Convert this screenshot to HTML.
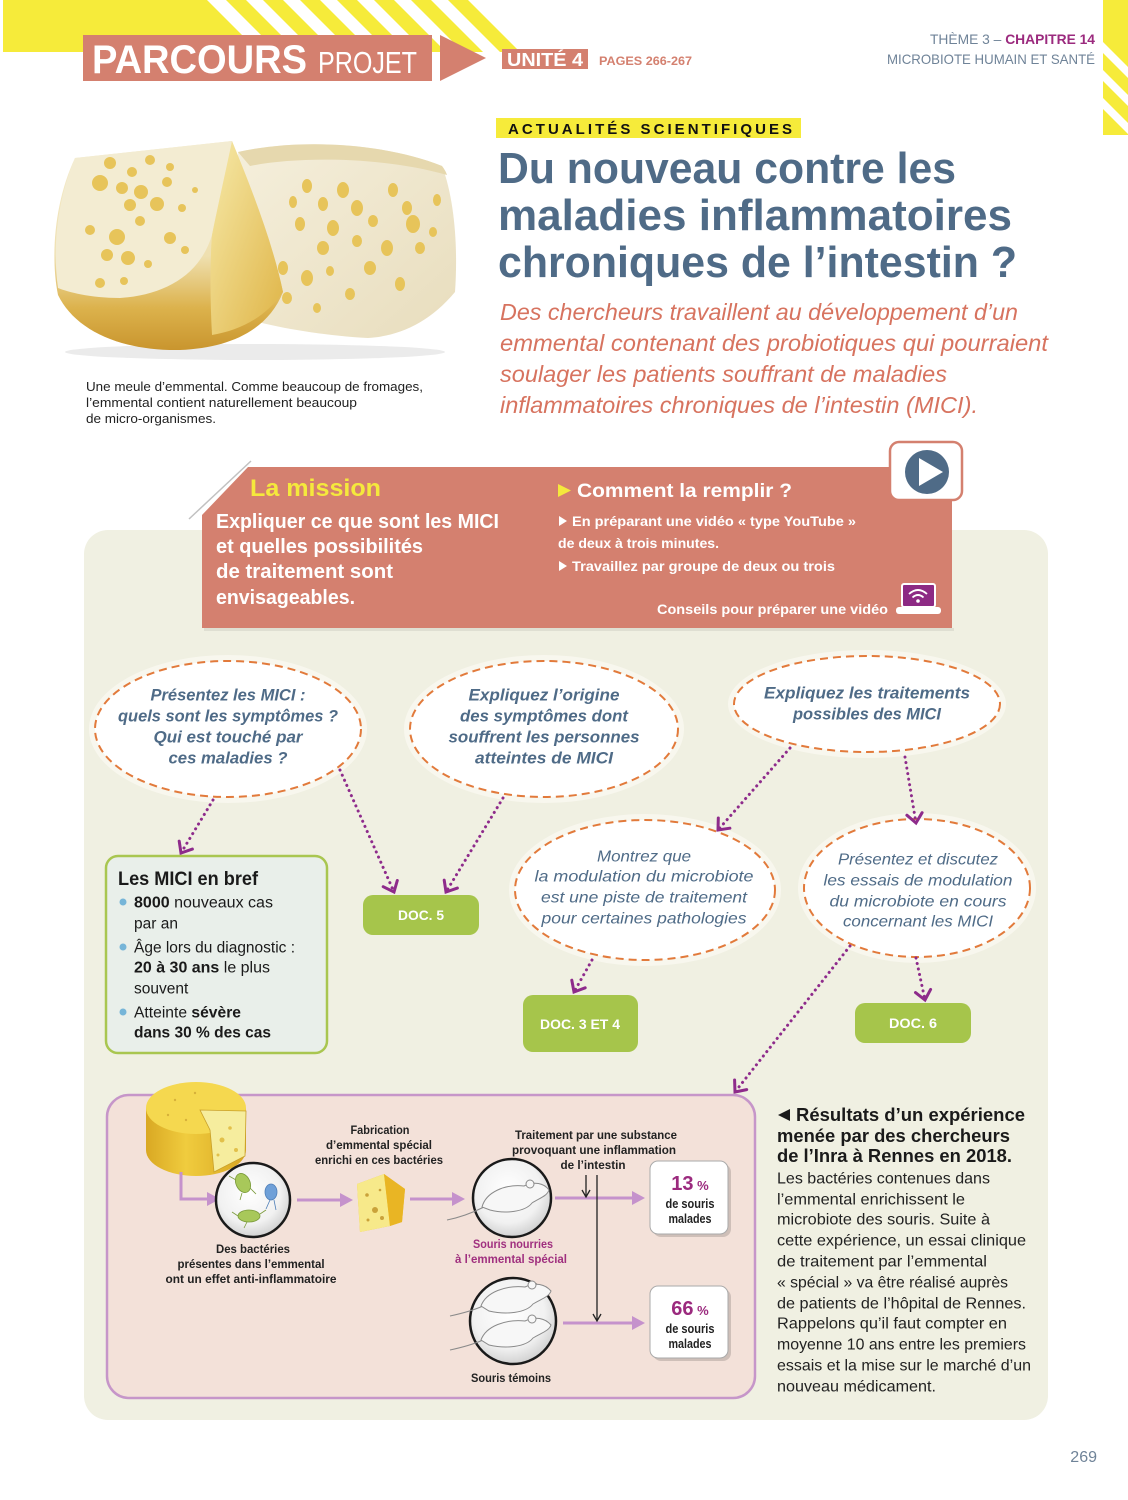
<!DOCTYPE html>
<html><head><meta charset="utf-8">
<style>
html,body{margin:0;padding:0;background:#fff;}
svg{display:block;}
text{font-family:"Liberation Sans","DejaVu Sans",sans-serif;}
</style></head><body>
<svg width="1128" height="1500" viewBox="0 0 1128 1500" xmlns="http://www.w3.org/2000/svg">
<defs>
<linearGradient id="lp" x1="0" y1="0" x2="0" y2="1"><stop offset="0" stop-color="#f4eccf"/><stop offset=".55" stop-color="#efe0b0"/><stop offset=".8" stop-color="#dcb24c"/><stop offset="1" stop-color="#c9952e"/></linearGradient>
<linearGradient id="wf" x1="0" y1="0" x2="1" y2="1"><stop offset="0" stop-color="#f6e9a8"/><stop offset="1" stop-color="#dfb446"/></linearGradient>
<linearGradient id="rp" x1="0" y1="0" x2="1" y2="1"><stop offset="0" stop-color="#f5efdc"/><stop offset="1" stop-color="#e8ddbd"/></linearGradient>
<radialGradient id="dish" cx=".45" cy=".4" r=".6"><stop offset="0" stop-color="#ffffff"/><stop offset=".7" stop-color="#f1f1f1"/><stop offset="1" stop-color="#d2d2d2"/></radialGradient>
<linearGradient id="wheel" x1="0" y1="0" x2="1" y2="0"><stop offset="0" stop-color="#d9a823"/><stop offset=".4" stop-color="#f0cc3e"/><stop offset="1" stop-color="#d8a622"/></linearGradient>
</defs>
<rect width="1128" height="1500" fill="#fff"/>

<!-- header stripes -->
<polygon points="3,0 207,0 259,52 3,52" fill="#f6eb3a"/>
<g fill="#f6eb3a">
<polygon points="226,0 246,0 298,52 278,52"/>
<polygon points="263,0 283,0 335,52 315,52"/>
<polygon points="300,0 320,0 372,52 352,52"/>
<polygon points="337,0 357,0 409,52 389,52"/>
<polygon points="374,0 394,0 446,52 426,52"/>
<polygon points="411,0 431,0 483,52 463,52"/>
<polygon points="448,0 468,0 520,52 500,52"/>
</g>
<rect x="1103" y="0" width="25" height="135" fill="#f6eb3a"/>
<g fill="#fff">
<polygon points="1103,42 1103,53 1128,78 1128,67"/>
<polygon points="1103,70 1103,81 1128,106 1128,95"/>
<polygon points="1103,98 1103,109 1128,134 1128,123"/>
</g>

<rect x="83" y="35" width="349" height="46" fill="#d4806f"/>
<polygon points="440,35 486,58 440,81" fill="#d4806f"/>
<text x="92" y="73" font-size="40" font-weight="bold" fill="#fff" textLength="215" lengthAdjust="spacingAndGlyphs">PARCOURS</text>
<text x="318" y="73" font-size="31" fill="#fff" textLength="99" lengthAdjust="spacingAndGlyphs">PROJET</text>
<rect x="502" y="49" width="86" height="20" fill="#d4806f"/>
<text x="507" y="66" font-size="18" font-weight="bold" fill="#fff" textLength="76" lengthAdjust="spacingAndGlyphs">UNITÉ 4</text>
<text x="599" y="65" font-size="12" font-weight="bold" fill="#d4806f" textLength="93" lengthAdjust="spacingAndGlyphs">PAGES 266-267</text>
<text x="1095" y="44" font-size="14" text-anchor="end" textLength="165" lengthAdjust="spacingAndGlyphs"><tspan fill="#6f8398">THÈME 3 – </tspan><tspan fill="#9b2a7e" font-weight="bold">CHAPITRE 14</tspan></text>
<text x="1095" y="64" font-size="14" text-anchor="end" fill="#6f8398" textLength="208" lengthAdjust="spacingAndGlyphs">MICROBIOTE HUMAIN ET SANTÉ</text>

<!-- cheese photo -->
<ellipse cx="255" cy="352" rx="190" ry="8" fill="#000" opacity=".08"/>
<path d="M238 152 C300 138 385 143 442 166 C455 200 458 250 455 292 C430 322 400 336 368 338 C330 336 290 330 258 322 L240 250 Z" fill="url(#rp)"/>
<path d="M238 152 C300 138 385 143 442 166 C445 170 446 172 447 175 C385 157 300 156 250 166 Z" fill="#e6d8ae"/>
<g fill="#e7c45a">
<ellipse cx="307" cy="186" rx="5" ry="7"/><ellipse cx="343" cy="190" rx="6" ry="8"/><ellipse cx="393" cy="190" rx="5" ry="7"/>
<ellipse cx="293" cy="202" rx="4" ry="6"/><ellipse cx="323" cy="204" rx="5" ry="7"/><ellipse cx="357" cy="208" rx="6" ry="8"/>
<ellipse cx="407" cy="208" rx="5" ry="7"/><ellipse cx="437" cy="200" rx="4" ry="6"/><ellipse cx="300" cy="224" rx="5" ry="7"/>
<ellipse cx="333" cy="228" rx="6" ry="8"/><ellipse cx="373" cy="221" rx="5" ry="6"/><ellipse cx="413" cy="224" rx="7" ry="9"/>
<ellipse cx="433" cy="232" rx="4" ry="5"/><ellipse cx="323" cy="248" rx="6" ry="7"/><ellipse cx="357" cy="241" rx="5" ry="6"/>
<ellipse cx="387" cy="248" rx="6" ry="8"/><ellipse cx="420" cy="248" rx="5" ry="6"/><ellipse cx="283" cy="268" rx="5" ry="7"/>
<ellipse cx="307" cy="278" rx="6" ry="8"/><ellipse cx="330" cy="271" rx="4" ry="5"/><ellipse cx="370" cy="268" rx="6" ry="7"/>
<ellipse cx="400" cy="284" rx="5" ry="7"/><ellipse cx="287" cy="298" rx="5" ry="6"/><ellipse cx="317" cy="308" rx="4" ry="5"/>
<ellipse cx="350" cy="294" rx="5" ry="6"/><ellipse cx="273" cy="293" rx="4" ry="5"/>
</g>
<path d="M75 158 L232 141 C250 185 272 240 283 292 C268 330 230 348 180 350 C120 351 75 330 58 295 C50 255 55 200 75 158 Z" fill="url(#lp)"/>
<path d="M75 158 L232 141 C226 170 218 205 212 235 C200 275 165 295 120 298 C90 298 68 292 58 288 C52 245 58 198 75 158 Z" fill="#f3ecd2"/>
<path d="M232 141 C250 185 272 240 283 292 C265 318 240 330 212 335 C210 300 210 260 212 235 C218 205 226 170 232 141 Z" fill="url(#wf)"/>
<g fill="#e7c45a">
<circle cx="110" cy="163" r="6"/><circle cx="132" cy="172" r="5"/><circle cx="150" cy="160" r="5"/><circle cx="170" cy="167" r="4"/>
<circle cx="100" cy="183" r="8"/><circle cx="122" cy="188" r="6"/><circle cx="141" cy="192" r="7"/><circle cx="167" cy="182" r="5"/>
<circle cx="130" cy="205" r="6"/><circle cx="157" cy="204" r="7"/><circle cx="182" cy="208" r="4"/><circle cx="90" cy="230" r="5"/>
<circle cx="117" cy="237" r="8"/><circle cx="140" cy="221" r="5"/><circle cx="170" cy="238" r="6"/><circle cx="107" cy="255" r="6"/>
<circle cx="128" cy="258" r="7"/><circle cx="148" cy="264" r="4"/><circle cx="100" cy="283" r="5"/><circle cx="124" cy="281" r="4"/>
<circle cx="185" cy="250" r="4"/><circle cx="195" cy="190" r="3"/>
</g>
<text x="86" y="391" font-size="13" fill="#222" textLength="337" lengthAdjust="spacingAndGlyphs">Une meule d’emmental. Comme beaucoup de fromages,</text>
<text x="86" y="407" font-size="13" fill="#222" textLength="271" lengthAdjust="spacingAndGlyphs">l’emmental contient naturellement beaucoup</text>
<text x="86" y="423" font-size="13" fill="#222" textLength="130" lengthAdjust="spacingAndGlyphs">de micro-organismes.</text>

<!-- title block -->
<rect x="496" y="118" width="305" height="20" fill="#f6eb3a"/>
<text x="508" y="134" font-size="15" font-weight="bold" fill="#111" textLength="284" lengthAdjust="spacing">ACTUALITÉS SCIENTIFIQUES</text>
<g font-size="44" font-weight="bold" fill="#4f6b87">
<text x="498" y="183" textLength="458" lengthAdjust="spacingAndGlyphs">Du nouveau contre les</text>
<text x="498" y="230" textLength="514" lengthAdjust="spacingAndGlyphs">maladies inflammatoires</text>
<text x="498" y="277" textLength="519" lengthAdjust="spacingAndGlyphs">chroniques de l’intestin ?</text>
</g>
<g font-size="23.5" font-style="italic" fill="#d7735f">
<text x="500" y="320" textLength="518" lengthAdjust="spacingAndGlyphs">Des chercheurs travaillent au développement d’un</text>
<text x="500" y="351" textLength="548" lengthAdjust="spacingAndGlyphs">emmental contenant des probiotiques qui pourraient</text>
<text x="500" y="382" textLength="447" lengthAdjust="spacingAndGlyphs">soulager les patients souffrant de maladies</text>
<text x="500" y="413" textLength="478" lengthAdjust="spacingAndGlyphs">inflammatoires chroniques de l’intestin (MICI).</text>
</g>

<!-- beige panel -->
<rect x="84" y="530" width="964" height="890" rx="24" fill="#f0f0e2"/>

<!-- mission box -->
<rect x="204" y="628" width="750" height="3" fill="#000" opacity=".07"/>
<polygon points="248,467 952,467 952,628 202,628 202,515" fill="#d4806f"/>
<line x1="189" y1="519" x2="251" y2="461" stroke="#999" stroke-width="1.5" opacity=".6"/>
<rect x="890" y="442" width="72" height="58" rx="9" fill="#fff" stroke="#d4806f" stroke-width="2.5"/>
<circle cx="927" cy="472" r="22" fill="#4f6b87"/>
<polygon points="919,458 919,486 943,472" fill="#fff"/>
<text x="250" y="496" font-size="24" font-weight="bold" fill="#f5e93c" textLength="131" lengthAdjust="spacingAndGlyphs">La mission</text>
<g font-size="20" font-weight="bold" fill="#fff">
<text x="216" y="528" textLength="283" lengthAdjust="spacingAndGlyphs">Expliquer ce que sont les MICI</text>
<text x="216" y="553" textLength="207" lengthAdjust="spacingAndGlyphs">et quelles possibilités</text>
<text x="216" y="578" textLength="177" lengthAdjust="spacingAndGlyphs">de traitement sont</text>
<text x="216" y="604" textLength="139" lengthAdjust="spacingAndGlyphs">envisageables.</text>
</g>
<polygon points="558,484 558,497 571,490.5" fill="#f5e93c"/>
<text x="577" y="497" font-size="19" font-weight="bold" fill="#fff" textLength="215" lengthAdjust="spacingAndGlyphs">Comment la remplir ?</text>
<polygon points="559,516 559,526 567,521" fill="#fff"/>
<polygon points="559,561 559,571 567,566" fill="#fff"/>
<g font-size="14" font-weight="bold" fill="#fff">
<text x="572" y="526" textLength="284" lengthAdjust="spacingAndGlyphs">En préparant une vidéo « type YouTube »</text>
<text x="558" y="548" textLength="161" lengthAdjust="spacingAndGlyphs">de deux à trois minutes.</text>
<text x="572" y="571" textLength="263" lengthAdjust="spacingAndGlyphs">Travaillez par groupe de deux ou trois</text>
<text x="657" y="614" textLength="231" lengthAdjust="spacingAndGlyphs">Conseils pour préparer une vidéo</text>
</g>
<rect x="902" y="584" width="33" height="23" rx="2" fill="#8d2a84" stroke="#fff" stroke-width="2"/>
<rect x="896" y="607" width="45" height="7" rx="3" fill="#fff"/>
<path d="M909 594 Q918 586 927 594 M912.5 597.5 Q918 592.5 923.5 597.5" stroke="#fff" stroke-width="1.8" fill="none"/>
<circle cx="918" cy="601" r="1.8" fill="#fff"/>

<!-- ellipses -->
<g fill="#f8f7ee">
<ellipse cx="228" cy="729" rx="139" ry="74"/>
<ellipse cx="544" cy="729" rx="140" ry="74"/>
<ellipse cx="867" cy="704" rx="139" ry="54"/>
<ellipse cx="645" cy="890" rx="136" ry="76"/>
<ellipse cx="917" cy="888" rx="119" ry="75"/>
</g>
<g fill="#fff" stroke="#e27a3b" stroke-width="2" stroke-dasharray="8 5">
<ellipse cx="228" cy="729" rx="133" ry="68"/>
<ellipse cx="544" cy="729" rx="134" ry="68"/>
<ellipse cx="867" cy="704" rx="133" ry="48"/>
<ellipse cx="645" cy="890" rx="130" ry="70"/>
<ellipse cx="917" cy="888" rx="113" ry="69"/>
</g>
<g font-size="16.5" font-weight="bold" font-style="italic" fill="#4f6b87" text-anchor="middle">
<text x="228" y="700.5" textLength="155" lengthAdjust="spacingAndGlyphs">Présentez les MICI :</text>
<text x="228" y="721.5" textLength="220" lengthAdjust="spacingAndGlyphs">quels sont les symptômes ?</text>
<text x="228" y="742.5" textLength="149" lengthAdjust="spacingAndGlyphs">Qui est touché par</text>
<text x="228" y="763.5" textLength="119" lengthAdjust="spacingAndGlyphs">ces maladies ?</text>
<text x="544" y="700.5" textLength="151" lengthAdjust="spacingAndGlyphs">Expliquez l’origine</text>
<text x="544" y="721.5" textLength="168" lengthAdjust="spacingAndGlyphs">des symptômes dont</text>
<text x="544" y="742.5" textLength="191" lengthAdjust="spacingAndGlyphs">souffrent les personnes</text>
<text x="544" y="763.5" textLength="138" lengthAdjust="spacingAndGlyphs">atteintes de MICI</text>
<text x="867" y="698.5" textLength="206" lengthAdjust="spacingAndGlyphs">Expliquez les traitements</text>
<text x="867" y="719.5" textLength="148" lengthAdjust="spacingAndGlyphs">possibles des MICI</text>
</g>
<g font-size="16" font-style="italic" fill="#4f6b87" text-anchor="middle">
<text x="644" y="861.5" textLength="94" lengthAdjust="spacingAndGlyphs">Montrez que</text>
<text x="644" y="881.5" textLength="219" lengthAdjust="spacingAndGlyphs">la modulation du microbiote</text>
<text x="644" y="902.5" textLength="206" lengthAdjust="spacingAndGlyphs">est une piste de traitement</text>
<text x="644" y="923.5" textLength="205" lengthAdjust="spacingAndGlyphs">pour certaines pathologies</text>
<text x="918" y="864.5" textLength="160" lengthAdjust="spacingAndGlyphs">Présentez et discutez</text>
<text x="918" y="885.5" textLength="189" lengthAdjust="spacingAndGlyphs">les essais de modulation</text>
<text x="918" y="906.5" textLength="177" lengthAdjust="spacingAndGlyphs">du microbiote en cours</text>
<text x="918" y="926.5" textLength="150" lengthAdjust="spacingAndGlyphs">concernant les MICI</text>
</g>

<!-- bref box -->
<rect x="106" y="856" width="221" height="197" rx="12" fill="#e9efea" stroke="#a9c650" stroke-width="2.5"/>
<text x="118" y="885" font-size="19.5" font-weight="bold" fill="#1a1a1a" textLength="140" lengthAdjust="spacingAndGlyphs">Les MICI en bref</text>
<g fill="#76b5d8"><circle cx="123" cy="902" r="3.5"/><circle cx="123" cy="947" r="3.5"/><circle cx="123" cy="1012" r="3.5"/></g>
<g font-size="15.5" fill="#1a1a1a">
<text x="134" y="907.5" textLength="139" lengthAdjust="spacingAndGlyphs"><tspan font-weight="bold">8000</tspan> nouveaux cas</text>
<text x="134" y="928.5">par an</text>
<text x="134" y="952.5" textLength="161" lengthAdjust="spacingAndGlyphs">Âge lors du diagnostic :</text>
<text x="134" y="972.5" textLength="136" lengthAdjust="spacingAndGlyphs"><tspan font-weight="bold">20 à 30 ans</tspan> le plus</text>
<text x="134" y="993.5">souvent</text>
<text x="134" y="1017.5" textLength="107" lengthAdjust="spacingAndGlyphs">Atteinte <tspan font-weight="bold">sévère</tspan></text>
<text x="134" y="1037.5" font-weight="bold" textLength="137" lengthAdjust="spacingAndGlyphs">dans 30 % des cas</text>
</g>

<!-- DOC boxes -->
<g fill="#a6c54b">
<rect x="363" y="895" width="116" height="40" rx="10"/>
<rect x="523" y="995" width="115" height="57" rx="10"/>
<rect x="855" y="1003" width="116" height="40" rx="10"/>
</g>
<g font-size="14" font-weight="bold" fill="#fff" text-anchor="middle">
<text x="421" y="920" textLength="46" lengthAdjust="spacingAndGlyphs">DOC. 5</text>
<text x="580" y="1029" textLength="80" lengthAdjust="spacingAndGlyphs">DOC. 3 ET 4</text>
<text x="913" y="1028" textLength="48" lengthAdjust="spacingAndGlyphs">DOC. 6</text>
</g>

<!-- dotted arrows -->
<g stroke="#8e2b8b" stroke-width="3" fill="none" stroke-linecap="round">
<g stroke-dasharray="0.1 5.5">
<line x1="213" y1="800" x2="181" y2="853"/>
<line x1="340" y1="770" x2="394" y2="892"/>
<line x1="503" y1="798" x2="446" y2="892"/>
<line x1="790" y1="748" x2="718" y2="830"/>
<line x1="905" y1="757" x2="916" y2="823"/>
<line x1="592" y1="960" x2="574" y2="992"/>
<line x1="916" y1="958" x2="925" y2="1000"/>
<line x1="850" y1="946" x2="735" y2="1092"/>
</g>
<polyline points="192.4,849.1 181,853 179.2,841.1"/>
<polyline points="397.3,880.5 394,892 383.2,886.7"/>
<polyline points="457.4,888.1 446,892 444.2,880.1"/>
<polyline points="729.9,828.2 718,830 718.3,818"/>
<polyline points="922.1,812.7 916,823 906.9,815.2"/>
<polyline points="585.2,987.8 574,992 571.8,980.2"/>
<polyline points="930.6,989.4 925,1000 915.5,992.6"/>
<polyline points="746.7,1089.6 735,1092 734.6,1080"/>
</g>

<!-- experiment box -->
<rect x="107" y="1095" width="648" height="303" rx="22" fill="#f3e1d9" stroke="#c696c9" stroke-width="2.5"/>

<!-- cheese wheel -->
<path d="M146 1108 L146 1150 A50 26 0 0 0 246 1150 L246 1108 Z" fill="url(#wheel)"/>
<ellipse cx="196" cy="1108" rx="50" ry="26" fill="#f5d84f"/>
<polygon points="200,1110 246,1111 245,1156 214,1172 210,1130" fill="#f6ed9e" stroke="#c9a02a" stroke-width="0.8"/>
<g fill="#e2c04a"><circle cx="222" cy="1140" r="2.5"/><circle cx="230" cy="1128" r="1.8"/><circle cx="236" cy="1150" r="2"/><circle cx="218" cy="1155" r="1.5"/></g>
<g fill="#d6b13a"><circle cx="175" cy="1100" r="1.2"/><circle cx="195" cy="1093" r="1.2"/><circle cx="168" cy="1115" r="1.2"/><circle cx="186" cy="1120" r="1.2"/></g>

<!-- purple flow arrows -->
<g stroke="#c592cc" stroke-width="3" fill="none">
<path d="M181 1172 V1199 H208"/>
<line x1="297" y1="1200" x2="341" y2="1200"/>
<line x1="410" y1="1199" x2="453" y2="1199"/>
<line x1="555" y1="1198" x2="633" y2="1198"/>
<line x1="563" y1="1323" x2="633" y2="1323"/>
</g>
<g fill="#c592cc">
<polygon points="207,1192 220,1199 207,1206"/>
<polygon points="340,1193 353,1200 340,1207"/>
<polygon points="452,1192 465,1199 452,1206"/>
<polygon points="632,1191 645,1198 632,1205"/>
<polygon points="632,1316 645,1323 632,1330"/>
</g>

<!-- petri dish -->
<circle cx="253" cy="1200" r="37" fill="url(#dish)" stroke="#1a1a1a" stroke-width="2.5"/>
<g stroke="#7a9a3a" stroke-width="0.8">
<line x1="236" y1="1180" x2="229" y2="1176"/><line x1="250" y1="1188" x2="256" y2="1194"/><line x1="242" y1="1193" x2="240" y2="1200"/>
<ellipse cx="243" cy="1183" rx="7" ry="10" transform="rotate(-25 243 1183)" fill="#a8c85a"/>
<line x1="238" y1="1216" x2="232" y2="1212"/><line x1="260" y1="1214" x2="266" y2="1210"/><line x1="247" y1="1222" x2="244" y2="1228"/>
<ellipse cx="249" cy="1216" rx="11" ry="6" fill="#a8c85a"/>
</g>
<g stroke="#4f7fb8" stroke-width="0.8">
<line x1="270" y1="1200" x2="266" y2="1209"/><line x1="274" y1="1200" x2="276" y2="1210"/>
<ellipse cx="271" cy="1192" rx="6" ry="8" fill="#6fa0d8"/>
</g>

<!-- small cheese wedge -->
<polygon points="357,1184 384,1174 405,1189 402,1222 390,1226 360,1232" fill="#f0c030"/>
<polygon points="357,1184 384,1174 390,1226 360,1232" fill="#f7e98a"/>
<polygon points="384,1174 405,1189 402,1222 390,1226" fill="#e9b524"/>
<g fill="#caa23a"><circle cx="367" cy="1195" r="1.8"/><circle cx="375" cy="1210" r="3"/><circle cx="368" cy="1220" r="1.5"/><circle cx="382" cy="1218" r="2"/><circle cx="380" cy="1190" r="1.3"/></g>

<!-- mice -->
<circle cx="512" cy="1198" r="39" fill="url(#dish)" stroke="#1a1a1a" stroke-width="2.5"/>
<g stroke="#8a8a8a" stroke-width="1" fill="#f7f7f7">
<path d="M447 1220 C462 1217 474 1212 484 1207" fill="none"/>
<path d="M482 1207 C486 1192 505 1184 524 1186 C534 1181 544 1183 549 1190 C547 1196 540 1198 532 1203 C525 1212 505 1214 490 1210 Z"/>
<circle cx="530" cy="1184" r="4"/>
</g>
<circle cx="513" cy="1321" r="43" fill="url(#dish)" stroke="#1a1a1a" stroke-width="2.5"/>
<g stroke="#8a8a8a" stroke-width="1" fill="#f7f7f7">
<path d="M450 1316 C464 1313 474 1310 483 1306" fill="none"/>
<path d="M481 1306 C486 1292 506 1285 525 1287 C535 1282 545 1284 551 1291 C549 1297 541 1299 533 1304 C526 1313 506 1315 489 1311 Z"/>
<circle cx="532" cy="1285" r="4"/>
<path d="M450 1350 C464 1347 474 1344 483 1340" fill="none"/>
<path d="M481 1340 C486 1326 506 1319 525 1321 C535 1316 545 1318 551 1325 C549 1331 541 1333 533 1338 C526 1347 506 1349 489 1345 Z"/>
<circle cx="532" cy="1319" r="4"/>
</g>

<!-- black arrows -->
<g stroke="#222" stroke-width="1.3" fill="none">
<line x1="586" y1="1175" x2="586" y2="1196"/>
<polyline points="582,1190 586,1197 590,1190"/>
<line x1="597" y1="1175" x2="597" y2="1320"/>
<polyline points="593,1314 597,1321 601,1314"/>
</g>

<!-- result boxes -->
<rect x="653" y="1164" width="78" height="73" rx="8" fill="#000" opacity=".15"/>
<rect x="650" y="1161" width="78" height="73" rx="8" fill="#fff" stroke="#aaa" stroke-width="1"/>
<rect x="653" y="1289" width="78" height="72" rx="8" fill="#000" opacity=".15"/>
<rect x="650" y="1286" width="78" height="72" rx="8" fill="#fff" stroke="#aaa" stroke-width="1"/>
<g text-anchor="middle" font-weight="bold">
<text x="690" y="1190" fill="#9b2a7e"><tspan font-size="20">13</tspan><tspan font-size="13"> %</tspan></text>
<text x="690" y="1315" fill="#9b2a7e"><tspan font-size="20">66</tspan><tspan font-size="13"> %</tspan></text>
<g font-size="12.5" fill="#222">
<text x="690" y="1208" textLength="49" lengthAdjust="spacingAndGlyphs">de souris</text>
<text x="690" y="1223" textLength="43" lengthAdjust="spacingAndGlyphs">malades</text>
<text x="690" y="1333" textLength="49" lengthAdjust="spacingAndGlyphs">de souris</text>
<text x="690" y="1348" textLength="43" lengthAdjust="spacingAndGlyphs">malades</text>
</g>
</g>

<!-- diagram labels -->
<g font-size="12" font-weight="bold" fill="#222" text-anchor="middle">
<text x="380" y="1134" textLength="59" lengthAdjust="spacingAndGlyphs">Fabrication</text>
<text x="379" y="1149" textLength="106" lengthAdjust="spacingAndGlyphs">d’emmental spécial</text>
<text x="379" y="1164" textLength="128" lengthAdjust="spacingAndGlyphs">enrichi en ces bactéries</text>
<text x="253" y="1253" textLength="74" lengthAdjust="spacingAndGlyphs">Des bactéries</text>
<text x="251" y="1268" textLength="147" lengthAdjust="spacingAndGlyphs">présentes dans l’emmental</text>
<text x="251" y="1283" textLength="171" lengthAdjust="spacingAndGlyphs">ont un effet anti-inflammatoire</text>
<text x="596" y="1139" textLength="162" lengthAdjust="spacingAndGlyphs">Traitement par une substance</text>
<text x="594" y="1154" textLength="164" lengthAdjust="spacingAndGlyphs">provoquant une inflammation</text>
<text x="593" y="1169" textLength="65" lengthAdjust="spacingAndGlyphs">de l’intestin</text>
<text x="513" y="1248" fill="#a0307f" textLength="80" lengthAdjust="spacingAndGlyphs">Souris nourries</text>
<text x="511" y="1263" fill="#a0307f" textLength="112" lengthAdjust="spacingAndGlyphs">à l’emmental spécial</text>
<text x="511" y="1382" textLength="80" lengthAdjust="spacingAndGlyphs">Souris témoins</text>
</g>

<!-- right text -->
<polygon points="778,1115 790,1109 790,1121" fill="#1a1a1a"/>
<g font-size="18" font-weight="bold" fill="#1a1a1a">
<text x="796" y="1121" textLength="229" lengthAdjust="spacingAndGlyphs">Résultats d’un expérience</text>
<text x="777" y="1142" textLength="233" lengthAdjust="spacingAndGlyphs">menée par des chercheurs</text>
<text x="777" y="1162" textLength="235" lengthAdjust="spacingAndGlyphs">de l’Inra à Rennes en 2018.</text>
</g>
<g font-size="16" fill="#222">
<text x="777" y="1183.5" textLength="213" lengthAdjust="spacingAndGlyphs">Les bactéries contenues dans</text>
<text x="777" y="1204.5" textLength="188" lengthAdjust="spacingAndGlyphs">l’emmental enrichissent le</text>
<text x="777" y="1224.5" textLength="213" lengthAdjust="spacingAndGlyphs">microbiote des souris. Suite à</text>
<text x="777" y="1245.5" textLength="249" lengthAdjust="spacingAndGlyphs">cette expérience, un essai clinique</text>
<text x="777" y="1266.5" textLength="210" lengthAdjust="spacingAndGlyphs">de traitement par l’emmental</text>
<text x="777" y="1287.5" textLength="231" lengthAdjust="spacingAndGlyphs">« spécial » va être réalisé auprès</text>
<text x="777" y="1308.5" textLength="249" lengthAdjust="spacingAndGlyphs">de patients de l’hôpital de Rennes.</text>
<text x="777" y="1328.5" textLength="230" lengthAdjust="spacingAndGlyphs">Rappelons qu’il faut compter en</text>
<text x="777" y="1349.5" textLength="249" lengthAdjust="spacingAndGlyphs">moyenne 10 ans entre les premiers</text>
<text x="777" y="1370.5" textLength="254" lengthAdjust="spacingAndGlyphs">essais et la mise sur le marché d’un</text>
<text x="777" y="1391.5" textLength="159" lengthAdjust="spacingAndGlyphs">nouveau médicament.</text>
</g>

<text x="1097" y="1462" font-size="16" fill="#6f8398" text-anchor="end">269</text>
</svg>
</body></html>
